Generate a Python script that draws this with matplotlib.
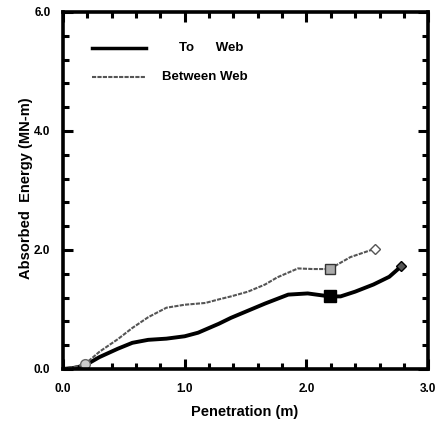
import matplotlib
matplotlib.use("Agg")
import matplotlib.pyplot as plt
from matplotlib.ticker import MultipleLocator

to_web_x = [0.0, 0.10, 0.18, 0.30, 0.45, 0.57, 0.70, 0.85, 1.00, 1.11, 1.28, 1.38, 1.52, 1.66, 1.85, 2.01, 2.19, 2.28, 2.40, 2.55, 2.68, 2.78]
to_web_y = [0.0, 0.02, 0.06, 0.20, 0.34, 0.44, 0.49, 0.51, 0.55, 0.61, 0.76, 0.86, 0.98, 1.10, 1.25, 1.27, 1.22, 1.22, 1.30, 1.42, 1.55, 1.73]

between_x = [0.0, 0.10, 0.18, 0.30, 0.45, 0.57, 0.70, 0.85, 1.00, 1.17, 1.28, 1.38, 1.52, 1.66, 1.76, 1.93, 2.05, 2.19, 2.36, 2.56]
between_y = [0.0, 0.04, 0.08, 0.29, 0.50, 0.69, 0.87, 1.03, 1.08, 1.11, 1.17, 1.22, 1.30, 1.42, 1.54, 1.69, 1.68, 1.68, 1.88, 2.02]

legend_labels = ["To      Web", "Between Web"]
x_ticks = [0.0, 1.0, 2.0, 3.0]
y_ticks = [0.0, 2.0, 4.0, 6.0]

plt.rcParams['font.family'] = ['Liberation Sans', 'DejaVu Sans']

fig = plt.figure(figsize=(4.37, 4.22), dpi=100)
ax = fig.add_axes([0.144, 0.1256, 0.836, 0.846])

ax.plot(to_web_x, to_web_y, color='black', lw=2.8, solid_capstyle='round')
ax.plot(between_x, between_y, color='#555555', lw=1.5, linestyle=(0, (2, 0.6)))

# markers
ax.plot([0.18], [0.08], marker='o', ms=7, mfc='#cccccc', mec='#666666', mew=1)
ax.plot([to_web_x[16]], [to_web_y[16]], marker='s', ms=8, color='black')
ax.plot([between_x[17]], [between_y[17]], marker='s', ms=7, mfc='#aaaaaa', mec='#333333', mew=1)
ax.plot([to_web_x[-1]], [to_web_y[-1]], marker='D', ms=5, mfc='#555555', mec='black', mew=1)
ax.plot([between_x[-1]], [between_y[-1]], marker='D', ms=5, mfc='white', mec='#555555', mew=1)

ax.set_xlim(0, 3.0)
ax.set_ylim(0, 6.0)
ax.xaxis.set_minor_locator(MultipleLocator(0.2))
ax.yaxis.set_minor_locator(MultipleLocator(0.4))
ax.set_xticks(x_ticks)
ax.set_yticks(y_ticks)
tick_font = dict(family=['Liberation Sans Narrow', 'Liberation Sans', 'DejaVu Sans'], size=8.5, weight='bold')
ax.set_xticklabels([f"{v:.1f}" for v in x_ticks], fontdict=tick_font)
ax.set_yticklabels([f"{v:.1f}" for v in y_ticks], fontdict=tick_font)

ax.tick_params(which='both', direction='in', top=True, right=True, width=2.2)
ax.tick_params(which='major', length=7)
ax.tick_params(which='minor', length=4.5)
ax.tick_params(axis='y', which='major', pad=9)
ax.tick_params(axis='x', which='major', pad=10)
for s in ax.spines.values():
    s.set_linewidth(2.6)

ax.set_xlabel("Penetration (m)", fontsize=10.5, fontweight='bold')
ax.set_ylabel("Absorbed  Energy (MN-m)", fontsize=10.5, fontweight='bold')
ax.xaxis.set_label_coords(0.496, -0.101)
ax.yaxis.set_label_coords(-0.081, 0.506)

# legend drawn manually
ax.plot([0.24, 0.68], [5.4, 5.4], color='black', lw=2.5)
ax.plot([0.24, 0.68], [4.91, 4.91], color='#555555', lw=1.5, linestyle=(0, (2, 0.6)))
ax.text(0.95, 5.4, legend_labels[0], fontsize=9.5, fontweight='bold', va='center', ha='left')
ax.text(0.81, 4.91, legend_labels[1], fontsize=9.5, fontweight='bold', va='center', ha='left')

fig.savefig("out.png", dpi=100)
